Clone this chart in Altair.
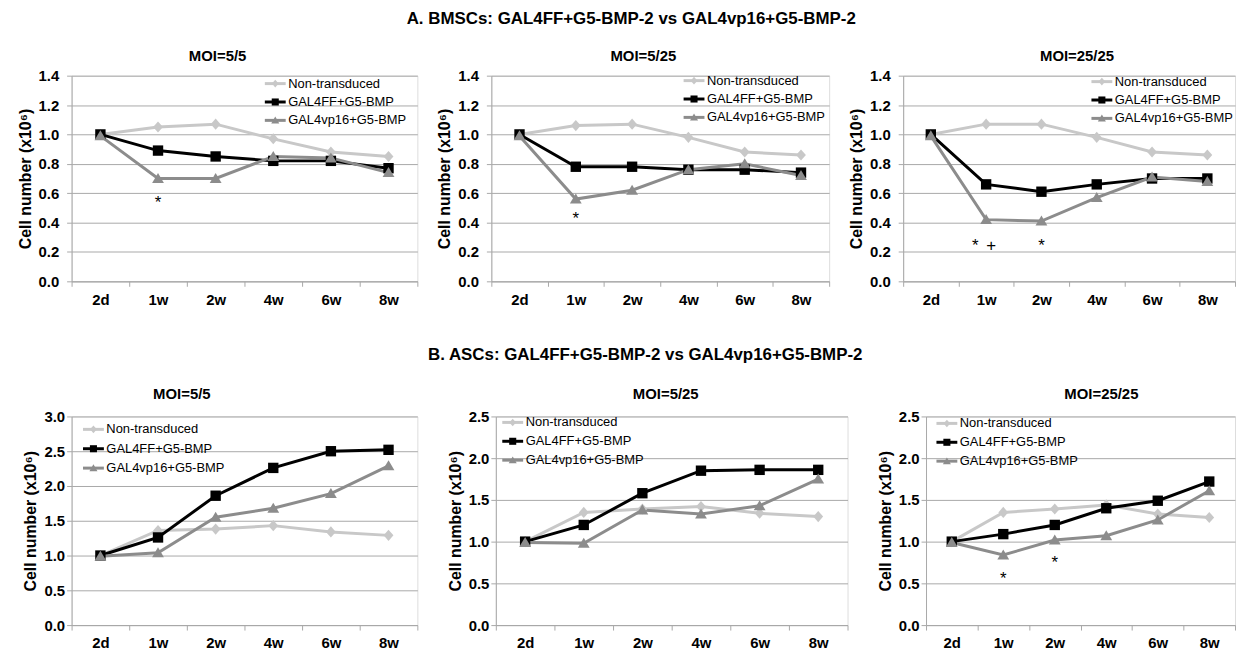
import altair as alt
import pandas as pd

# ---------------- data ----------------
times = ["2d", "1w", "2w", "4w", "6w", "8w"]
series = ["Non-transduced", "GAL4FF+G5-BMP", "GAL4vp16+G5-BMP"]
colors = ["#c8c8c8", "#000000", "#8c8c8c"]

bmsc_55_non = [1.00, 1.05, 1.07, 0.97, 0.88, 0.85]
bmsc_55_ff = [1.00, 0.89, 0.85, 0.82, 0.82, 0.77]
bmsc_55_vp = [0.99, 0.70, 0.70, 0.85, 0.84, 0.74]

bmsc_525_non = [1.00, 1.06, 1.07, 0.98, 0.88, 0.86]
bmsc_525_ff = [1.00, 0.78, 0.78, 0.76, 0.76, 0.74]
bmsc_525_vp = [0.99, 0.56, 0.62, 0.76, 0.80, 0.72]

bmsc_2525_non = [1.00, 1.07, 1.07, 0.98, 0.88, 0.86]
bmsc_2525_ff = [1.00, 0.66, 0.61, 0.66, 0.70, 0.70]
bmsc_2525_vp = [0.99, 0.42, 0.41, 0.57, 0.71, 0.68]

asc_55_non = [1.00, 1.36, 1.38, 1.43, 1.34, 1.29]
asc_55_ff = [1.00, 1.26, 1.86, 2.26, 2.50, 2.52]
asc_55_vp = [0.99, 1.04, 1.55, 1.68, 1.89, 2.29]

asc_525_non = [1.00, 1.35, 1.39, 1.42, 1.34, 1.30]
asc_525_ff = [1.00, 1.20, 1.58, 1.85, 1.86, 1.86]
asc_525_vp = [0.99, 0.98, 1.38, 1.33, 1.43, 1.75]

asc_2525_non = [1.00, 1.35, 1.39, 1.44, 1.33, 1.29]
asc_2525_ff = [1.00, 1.09, 1.20, 1.40, 1.49, 1.72]
asc_2525_vp = [0.99, 0.84, 1.02, 1.07, 1.26, 1.61]

# significance marks: (time, y, text, dx)
ann_bmsc_55 = [("1w", 0.56, "*", 0)]
ann_bmsc_525 = [("1w", 0.45, "*", 0)]
ann_bmsc_2525 = [("1w", 0.27, "*", -11), ("1w", 0.27, "+", 5), ("2w", 0.27, "*", 0)]
ann_asc_55 = []
ann_asc_525 = []
ann_asc_2525 = [("1w", 0.60, "*", 0), ("2w", 0.79, "*", 0)]

ticks_bmsc = [0.0, 0.2, 0.4, 0.6, 0.8, 1.0, 1.2, 1.4]
ticks_asc3 = [0.0, 0.5, 1.0, 1.5, 2.0, 2.5, 3.0]
ticks_asc25 = [0.0, 0.5, 1.0, 1.5, 2.0, 2.5]

# ---------------- style ----------------
FONT = "Liberation Sans"
GRID = "#a8a8a8"
shapes = [
    "M0,-0.62L0.55,0L0,0.62L-0.55,0Z",
    "M-0.58,-0.58H0.58V0.58H-0.58Z",
    "M0,-0.62L0.66,0.5H-0.66Z",
]
cscale = alt.Scale(domain=series, range=colors)
sscale = alt.Scale(domain=series, range=shapes)


def panel(title, non, ff, vp, ymax, yticks, ann, w, h, tdx, toff, lcx, ly0, ldy, lpad):
    rows = []
    for s, vals in zip(series, [non, ff, vp]):
        for t, v in zip(times, vals):
            rows.append({"time": t, "value": v, "series": s})
    df = pd.DataFrame(rows)

    x = alt.X("time:N", sort=times,
              scale=alt.Scale(type="band", domain=times, paddingInner=0, paddingOuter=0),
              axis=alt.Axis(title=None, labelAngle=0, tickBand="extent", ticks=True,
                            tickSize=5, tickColor=GRID, domainColor=GRID, grid=False,
                            labelPadding=6, labelFontSize=15, labelFontWeight="bold",
                            labelColor="black", labelFont=FONT))
    y = alt.Y("value:Q", scale=alt.Scale(domain=[0, ymax], nice=False, zero=True),
              axis=alt.Axis(values=yticks, format=".1f", title="Cell number (x10⁶)",
                            titleFont=FONT, titleFontSize=16, titleFontWeight="bold",
                            titleColor="black", titlePadding=5,
                            labelFont=FONT, labelFontSize=15, labelFontWeight="bold",
                            labelColor="black", labelPadding=lpad, tickSize=5,
                            tickColor=GRID, domainColor=GRID, gridColor=GRID,
                            grid=True, gridWidth=1))

    base = alt.Chart(df)
    lines = base.mark_line(strokeWidth=3).encode(
        x=x, y=y,
        color=alt.Color("series:N", scale=cscale, legend=None),
        detail="series:N",
    )
    pts = base.mark_point(filled=True, size=324, opacity=1).encode(
        x=x, y=y,
        color=alt.Color("series:N", scale=cscale, legend=None),
        shape=alt.Shape("series:N", scale=sscale, legend=None),
    )
    layers = [lines, pts]
    if ann:
        adf = pd.DataFrame([{"time": a[0], "value": a[1], "txt": a[2], "dx": a[3]} for a in ann])
        for dxv in sorted(set(adf["dx"])):
            sub = adf[adf["dx"] == dxv]
            layers.append(alt.Chart(sub).mark_text(
                font=FONT, fontSize=17, dx=int(dxv), dy=4, fill="black", baseline="middle"
            ).encode(x=x, y=y, text="txt:N"))
    main = alt.layer(*layers)

    # legend drawn inside the plot area
    ldf = pd.DataFrame({"series": series, "idx": [0, 1, 2]})
    ly = alt.Y("idx:O", scale=alt.Scale(type="point", domain=[0, 1, 2], padding=0,
                                         range=[ly0, ly0 + 2 * ldy]), axis=None)
    lbase = alt.Chart(ldf)
    lrule = lbase.mark_rule(strokeWidth=3).encode(
        x=alt.value(lcx - 10.5), x2=alt.value(lcx + 10.5), y=ly,
        color=alt.Color("series:N", scale=cscale, legend=None))
    lpt = lbase.mark_point(filled=True, size=150, opacity=1).encode(
        x=alt.value(lcx), y=ly,
        color=alt.Color("series:N", scale=cscale, legend=None),
        shape=alt.Shape("series:N", scale=sscale, legend=None))
    ltxt = lbase.mark_text(font=FONT, fontSize=13, align="left", baseline="middle",
                           fill="black").encode(
        x=alt.value(lcx + 13), y=ly, text="series:N")
    legend = alt.layer(lrule, lpt, ltxt)

    return alt.layer(main, legend).resolve_scale(y="independent").properties(
        width=w, height=h,
        title=alt.TitleParams(title, font=FONT, fontSize=15, fontWeight="bold", color="black",
                              anchor="middle", frame="group", dx=tdx, offset=toff),
    )


p1 = panel("MOI=5/5", bmsc_55_non, bmsc_55_ff, bmsc_55_vp, 1.4, ticks_bmsc, ann_bmsc_55,
           348, 207, -27, 5, 205, 8, 18.5, 8)
p2 = panel("MOI=5/25", bmsc_525_non, bmsc_525_ff, bmsc_525_vp, 1.4, ticks_bmsc, ann_bmsc_525,
           340, 207, -17, 5, 204, 5, 18.5, 8)
p3 = panel("MOI=25/25", bmsc_2525_non, bmsc_2525_ff, bmsc_2525_vp, 1.4, ticks_bmsc, ann_bmsc_2525,
           334, 207, 8, 5, 200, 6, 18.5, 8)
p4 = panel("MOI=5/5", asc_55_non, asc_55_ff, asc_55_vp, 3.0, ticks_asc3, ann_asc_55,
           348, 210, -63, 8, 22, 13, 19.5, 2)
p5 = panel("MOI=5/25", asc_525_non, asc_525_ff, asc_525_vp, 2.5, ticks_asc25, ann_asc_525,
           354, 210, -6, 8, 17, 6, 19, 2)
p6 = panel("MOI=25/25", asc_2525_non, asc_2525_ff, asc_2525_vp, 2.5, ticks_asc25, ann_asc_2525,
           311, 210, 21, 8, 21, 7, 19, 2)

rowA = alt.hconcat(p1, p2, p3, spacing=17.5).properties(
    title=alt.TitleParams("A. BMSCs: GAL4FF+G5-BMP-2 vs GAL4vp16+G5-BMP-2",
                          font=FONT, fontSize=17, fontWeight="bold",
                          color="black", anchor="middle", dx=5, offset=20)
)

rowB = alt.hconcat(p4, p5, p6, spacing=28).properties(
    title=alt.TitleParams("B. ASCs: GAL4FF+G5-BMP-2 vs GAL4vp16+G5-BMP-2",
                          font=FONT, fontSize=17, fontWeight="bold",
                          color="black", anchor="middle", dx=16, offset=22)
)

chart = alt.vconcat(rowA, rowB, spacing=38).properties(
    padding={"left": 8, "right": 0, "top": 0, "bottom": 0}
).configure_view(stroke=None).configure(font=FONT, background="white")

chart.save("out.html", embed_options={"renderer": "svg", "actions": False})
